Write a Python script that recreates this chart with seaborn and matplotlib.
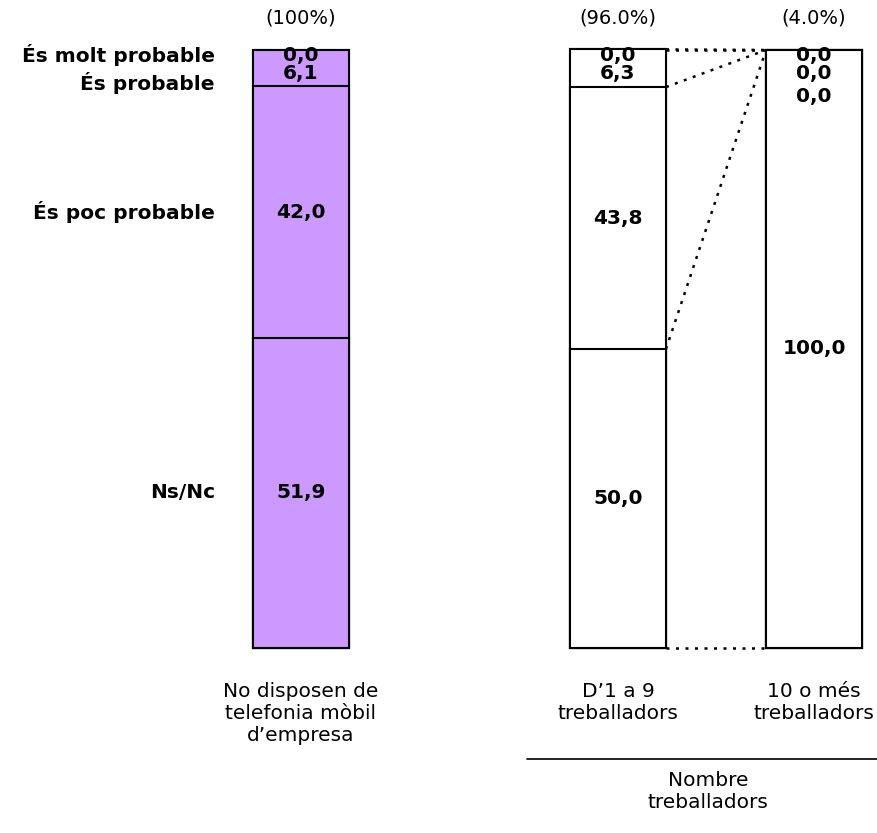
import numpy as np
import pandas as pd
import seaborn as sns
import matplotlib.pyplot as plt

# Data (categories bottom -> top)
categories = ["Ns/Nc", "És poc probable", "És probable", "És molt probable"]
groups = ["No disposen de\ntelefonia mòbil\nd’empresa", "D’1 a 9\ntreballadors", "10 o més\ntreballadors"]
shares = ["(100%)", "(96.0%)", "(4.0%)"]
no_mobile = [51.9, 42.0, 6.1, 0.0]
small_firms = [50.0, 43.8, 6.3, 0.0]
large_firms = [100.0, 0.0, 0.0, 0.0]

# Layout (pixel-based x axis, percent y axis)
W, H = 878, 833
BAR_X = [301, 618, 814]
BAR_W = 96
PX_PER_PCT = 5.98
BASE_PX = 648
colors = {groups[0]: "#CC99FF", groups[1]: "white", groups[2]: "white"}

sns.set_style("white")
plt.rcParams["font.family"] = ["DejaVu Sans"]
plt.rcParams["text.color"] = "black"

rows = []
for g, x, vals in zip(groups, BAR_X, [no_mobile, small_firms, large_firms]):
    cum = np.cumsum(vals)
    for i, (c, v) in enumerate(zip(categories, vals)):
        rows.append({"group": g, "x": x, "cat": c, "idx": i, "value": v, "cum": cum[i]})
df = pd.DataFrame(rows)

fig = plt.figure(figsize=(W / 100, H / 100), dpi=100)
ax = fig.add_axes([0, 0, 1, 1])

# stacked bars: draw cumulative heights from the top layer down
gap = np.min(np.diff(sorted(BAR_X)))
for i in reversed(range(len(categories))):
    sub = df[df["idx"] == i]
    sns.barplot(data=sub, x="x", y="cum", hue="group", palette=colors, native_scale=True,
                width=BAR_W / gap, edgecolor="black", linewidth=1.5, errorbar=None,
                saturation=1, legend=False, dodge=False, ax=ax)

ax.set_xlim(0, W)
ax.set_ylim(-(H - BASE_PX) / PX_PER_PCT, BASE_PX / PX_PER_PCT)
ax.axis("off")

# connectors between the two breakdown bars
b1 = np.concatenate([[0], np.cumsum(small_firms)[:-1]])
b2 = np.concatenate([[0], np.cumsum(large_firms)[:-1]])
for y1, y2 in list(zip(b1, b2)) + [(100, 100)]:
    ax.plot([BAR_X[1] + BAR_W / 2, BAR_X[2] - BAR_W / 2], [y1, y2], color="black",
            lw=1.8, linestyle=(0, (1.2, 2.6)), zorder=1)

# value labels
top_slots = [99.0, 96.1, 92.2]
for x, vals in zip(BAR_X, [no_mobile, small_firms, large_firms]):
    cum = np.cumsum(vals)
    k = 0
    for i in reversed(range(len(vals))):
        v = vals[i]
        txt = f"{v:.1f}".replace(".", ",")
        if v >= 10:
            y = cum[i] - v / 2
        else:
            y = top_slots[k]
            k += 1
        ax.text(x, y, txt, ha="center", va="center", fontsize=14.5, fontweight="bold", zorder=5)

# category labels on the left
left_slots = [99.2, 94.5]
k = 0
cum0 = np.cumsum(no_mobile)
for i in reversed(range(len(categories))):
    if no_mobile[i] >= 10:
        y = cum0[i] - no_mobile[i] / 2
    else:
        y = left_slots[k]
        k += 1
    ax.text(215, y, categories[i], ha="right", va="center", fontsize=14.5, fontweight="bold")

# shares above bars and group labels below
for x, s, g in zip(BAR_X, shares, groups):
    ax.text(x, (BASE_PX - 18) / PX_PER_PCT, s, ha="center", va="center", fontsize=14)
    ax.text(x, -(682 - BASE_PX) / PX_PER_PCT, g, ha="center", va="top", fontsize=14.5,
            linespacing=1.2)

ax.plot([527, W], [-(759 - BASE_PX) / PX_PER_PCT] * 2, color="black", lw=1.2)
ax.text(708, -(771 - BASE_PX) / PX_PER_PCT, "Nombre\ntreballadors", ha="center", va="top",
        fontsize=14.5, linespacing=1.2)

fig.savefig("out.png", dpi=100)
